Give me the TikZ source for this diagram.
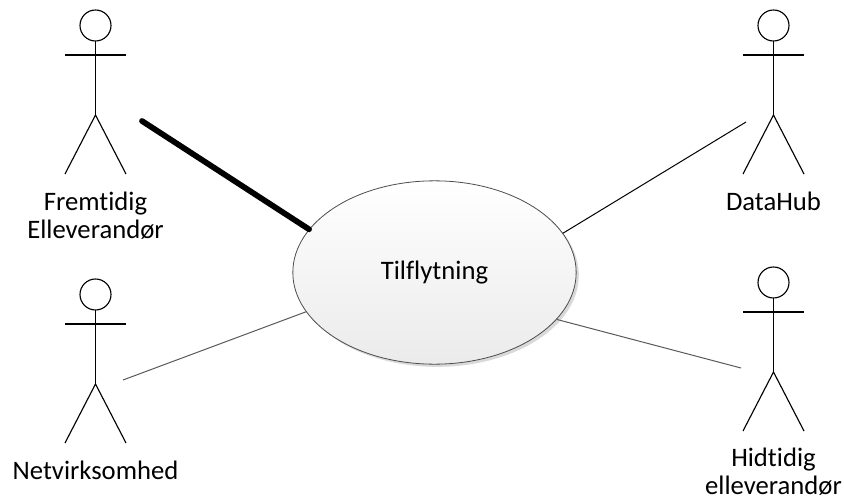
\documentclass[tikz,border=0pt]{standalone}
\usepackage{fontspec}
\setmainfont[Ligatures=NoCommon]{Carlito}
\usetikzlibrary{shapes.geometric, shadows}

\tikzset{
    actor/.pic={
        \draw [actorline] (0,0) circle (15.5);
        \draw [actorline] (0,15.5) -- (0,89.5);
        \draw [actorline] (-30.5,29.5) -- (30.5,29.5);
        \draw [actorline] (-30.5,148.5) -- (0,89.5) -- (30.5,148.5);
    },
    actorline/.style={line width=0.85pt, black},
    actorlabel/.style={align=center, font=\fontsize{20}{21}\selectfont, inner sep=0pt},
    usecase/.style={ellipse, draw=black!70, line width=0.6pt, inner sep=0pt, align=center,
                    font=\fontsize{20}{21}\selectfont,
                    minimum width=212.5pt, minimum height=137.5pt,
                    top color=white, bottom color=black!8,
                    drop shadow={shadow xshift=2pt, shadow yshift=-2pt, fill=black!25, opacity=0.6}},
    link/.style={line width=0.75pt, black!65},
}

\begin{document}
\begin{tikzpicture}[x=0.75pt, y=-0.75pt]
    \useasboundingbox (0,0) rectangle (844,500);

    % Use case

    \node (tilflytning) [usecase] at (434.5,272.5) {\raisebox{-1.5pt}{Tilflytning}};

    % Fremtidig Elleverandoer

    \pic at (95.5,25.5) {actor};
    \node (fremtidig) [actorlabel] at (95.5,215.5) {Fremtidig \\ Elleverandør};
    \coordinate (fremtidigend) at (142,121);
    \draw [line width=4.3pt, black, line cap=round] (fremtidigend) -- (tilflytning.161.2);

    % DataHub

    \pic at (773.5,25.5) {actor};
    \node (datahub) [actorlabel] at (773.5,201) {DataHub};
    \coordinate (datahubend) at (746,122);
    \draw [link, black] (datahubend) -- (tilflytning.17.8);

    % Netvirksomhed

    \pic at (95.5,294.5) {actor};
    \node (netvirksomhed) [actorlabel] at (95.5,470) {Netvirksomhed};
    \coordinate (netvirksomhedend) at (123,380);
    \draw [link] (netvirksomhedend) -- (tilflytning.197.8);

    % Hidtidig elleverandoer

    \pic at (773.5,282.5) {actor};
    \node (hidtidig) [actorlabel] at (773.5,471.5) {Hidtidig \\ elleverandør};
    \coordinate (hidtidigend) at (741,368);
    \draw [link] (hidtidigend) -- (tilflytning.339.9);
\end{tikzpicture}
\end{document}
